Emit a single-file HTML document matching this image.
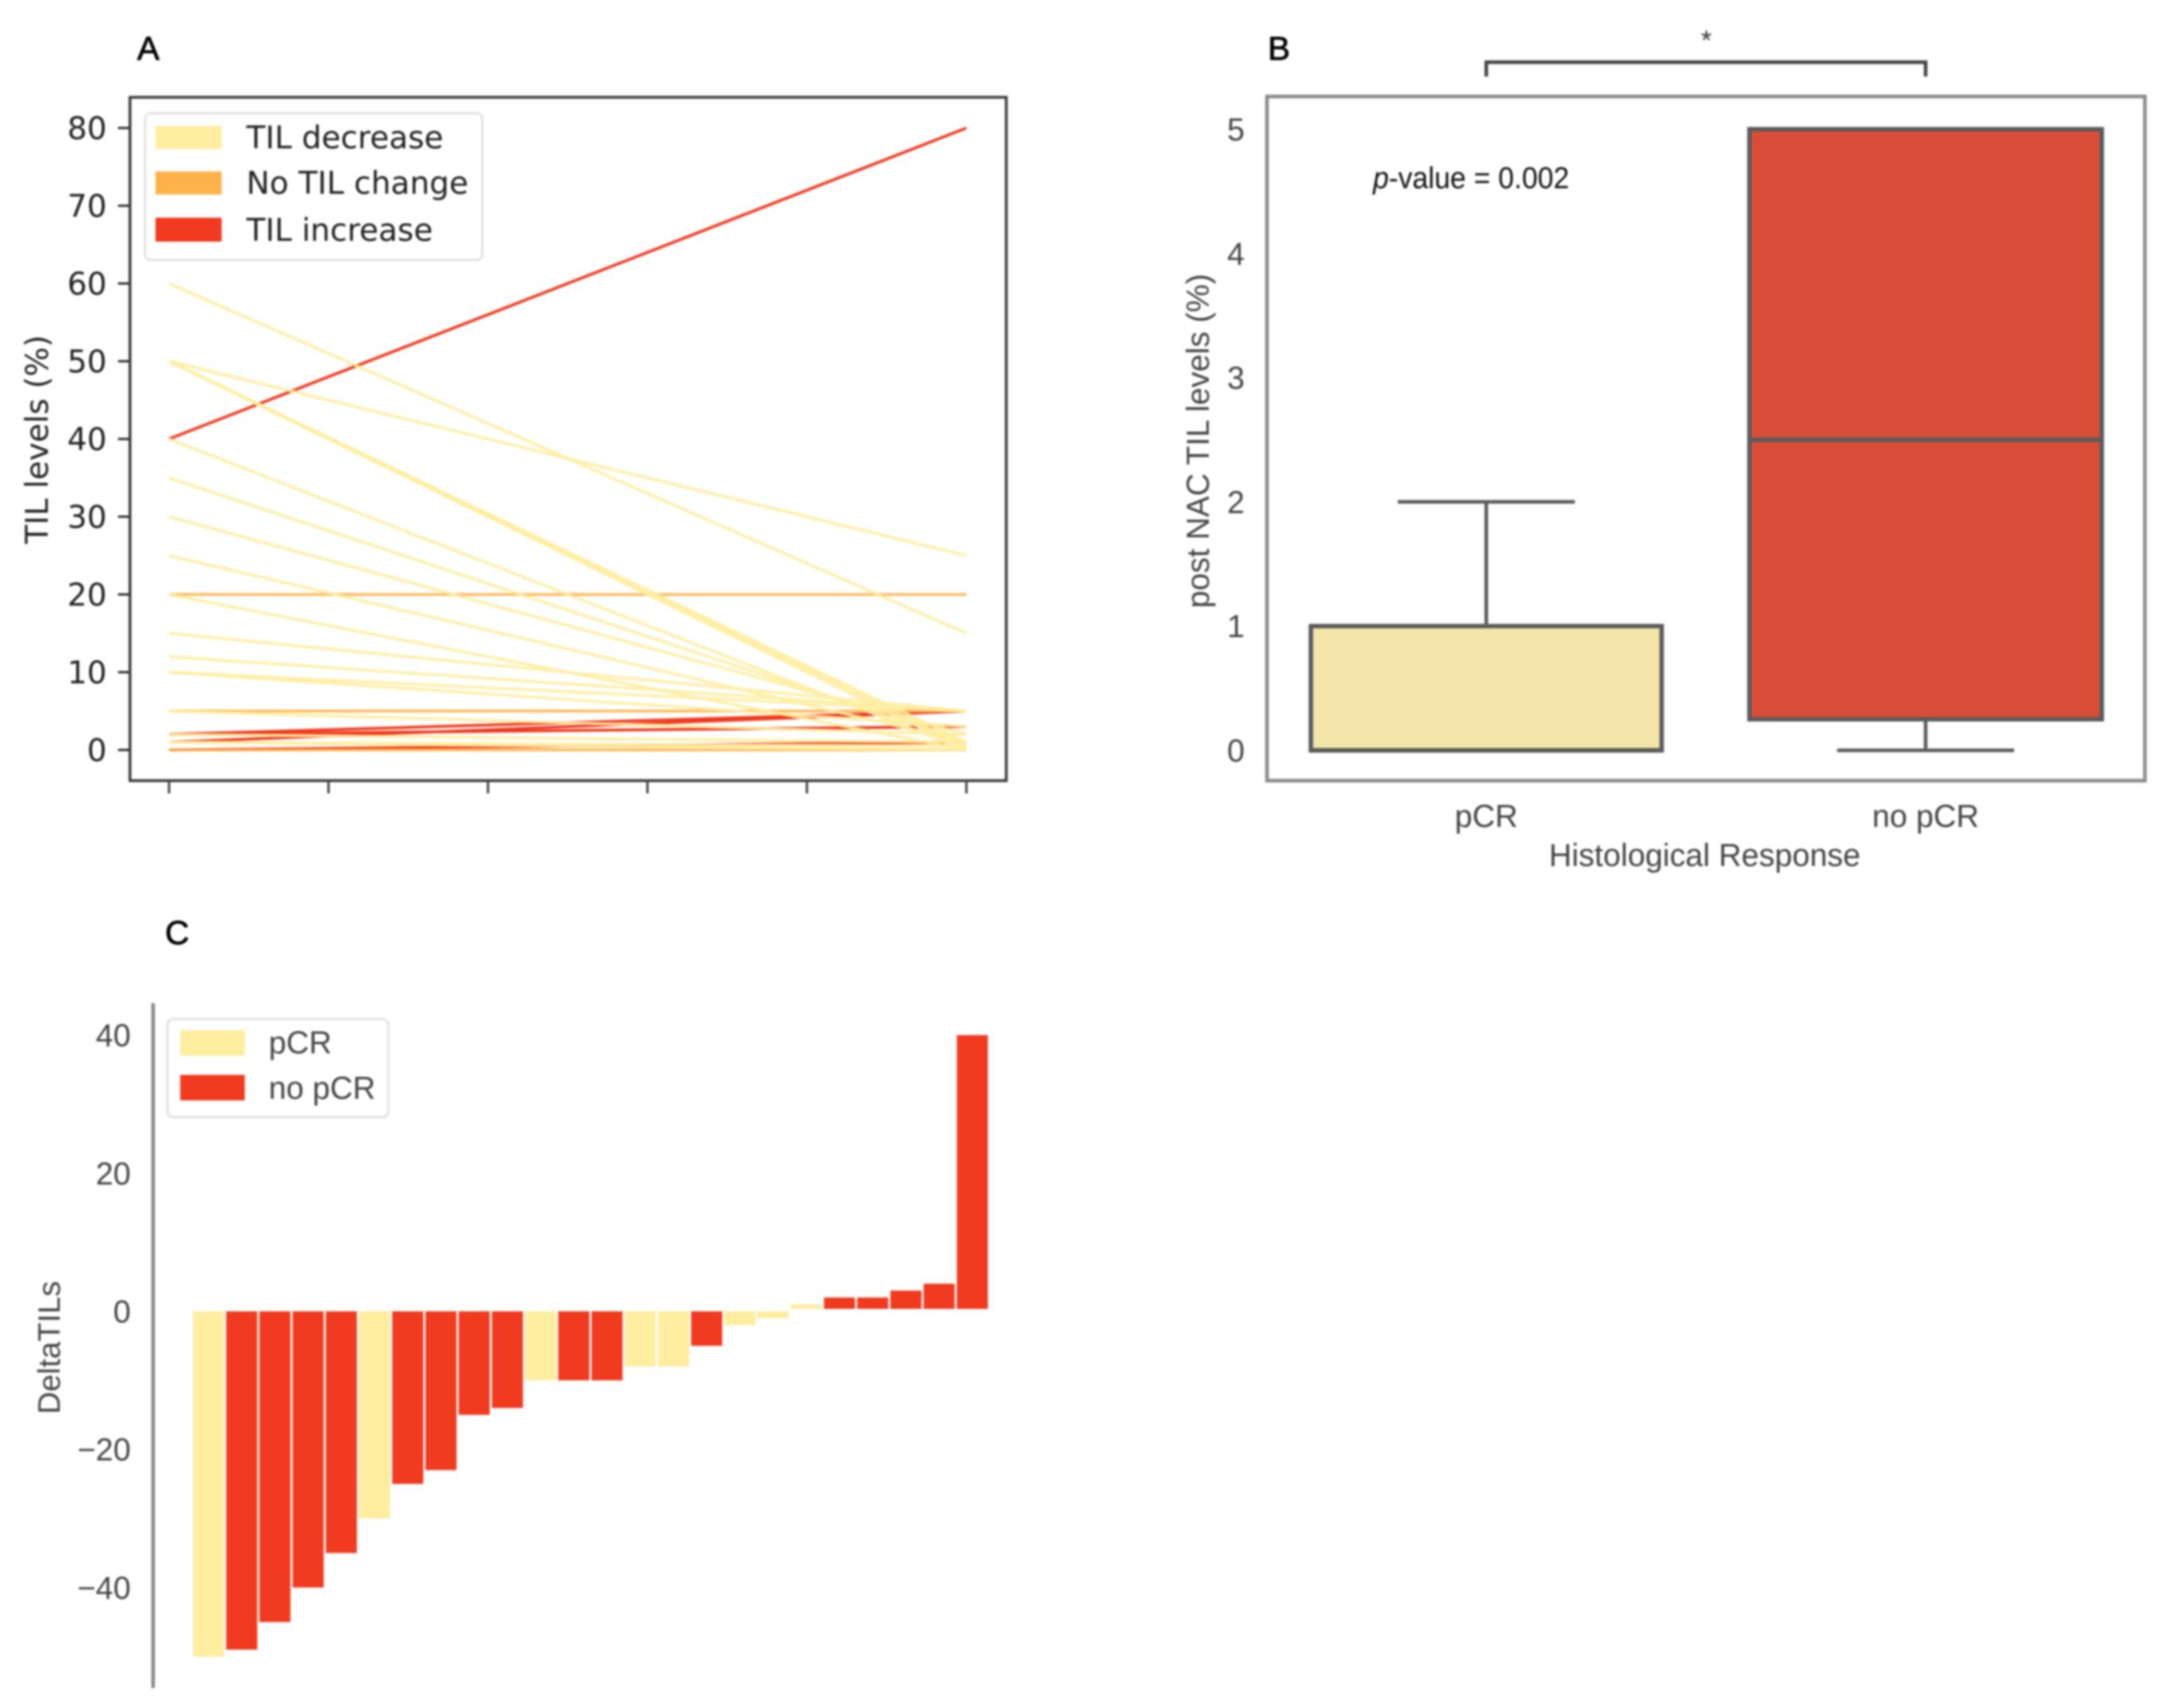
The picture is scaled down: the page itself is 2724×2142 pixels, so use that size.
<!DOCTYPE html>
<html>
<head>
<meta charset="utf-8">
<title>TIL levels figure</title>
<style>
html,body{margin:0;padding:0;background:#fff;width:2724px;height:2142px;overflow:hidden}
svg{display:block;filter:blur(1.4px)}
.dj{font-family:"DejaVu Sans",sans-serif}
.ls{font-family:"Liberation Sans",sans-serif}
</style>
</head>
<body>
<svg id="fig" xmlns="http://www.w3.org/2000/svg" width="2724" height="2142" viewBox="0 0 2724 2142">
  <rect x="0" y="0" width="2724" height="2142" fill="#fff"/>

  <g id="panelA">
    <text x="172" y="75" class="ls" font-size="42" fill="#000" stroke="#000" stroke-width="0.8">A</text>
    <g id="aLines"></g>
    <rect x="163" y="122" width="1099" height="857" fill="none" stroke="#3a3a3a" stroke-width="3.5"/>
    <g id="aTicks"></g>
    <text transform="translate(60,551) rotate(-90)" text-anchor="middle" class="dj" font-size="39" fill="#222" textLength="262" lengthAdjust="spacingAndGlyphs">TIL levels (%)</text>
    <g>
      <rect x="182" y="142" width="423" height="184" rx="7" fill="#fff" fill-opacity=".9" stroke="#e2e2e2" stroke-width="3"/>
      <rect x="195" y="158" width="83" height="29" fill="#ffeda0"/>
      <rect x="195" y="215" width="83" height="29" fill="#feb24c"/>
      <rect x="195" y="273" width="83" height="30" fill="#f03b20"/>
      <text x="309" y="186" class="dj" font-size="39" fill="#222">TIL decrease</text>
      <text x="309" y="243" class="dj" font-size="39" fill="#222">No TIL change</text>
      <text x="309" y="302" class="dj" font-size="39" fill="#222">TIL increase</text>
    </g>
  </g>

  <g id="panelB">
    <text x="1590" y="75" class="ls" font-size="42" fill="#000" stroke="#000" stroke-width="0.8">B</text>
    <path d="M1864 96V78H2415V96" fill="none" stroke="#444" stroke-width="4.5"/>
    <text x="2140" y="62" text-anchor="middle" class="ls" font-size="34" fill="#333">*</text>
    <rect x="1589" y="121" width="1101" height="858" fill="none" stroke="#8a8a8a" stroke-width="4.5"/>
    <g id="bBoxes"></g>
    <g id="bTicks"></g>
    <text x="1722" y="236" class="ls" font-size="38" fill="#111" textLength="246" lengthAdjust="spacingAndGlyphs"><tspan font-style="italic">p</tspan>-value = 0.002</text>
    <text transform="translate(1516,553) rotate(-90)" text-anchor="middle" class="ls" font-size="39.5" fill="#444">post NAC TIL levels (%)</text>
    <text x="2138" y="1086" text-anchor="middle" class="ls" font-size="39.5" fill="#444">Histological Response</text>
  </g>

  <g id="panelC">
    <text x="207" y="1184" class="ls" font-size="42" fill="#000" stroke="#000" stroke-width="0.8">C</text>
    <g id="cBars"></g>
    <line x1="192" y1="1258" x2="192" y2="2117" stroke="#8a8a8a" stroke-width="4.5"/>
    <g id="cTicks"></g>
    <text transform="translate(75,1690) rotate(-90)" text-anchor="middle" class="ls" font-size="39" fill="#444">DeltaTILs</text>
    <g>
      <rect x="210" y="1278" width="277" height="123" rx="7" fill="#fff" stroke="#e2e2e2" stroke-width="3"/>
      <rect x="226" y="1292" width="81" height="32" fill="#ffeda0"/>
      <rect x="226" y="1348" width="81" height="32" fill="#f03b20"/>
      <text x="337" y="1321" class="ls" font-size="39.5" fill="#444">pCR</text>
      <text x="337" y="1378" class="ls" font-size="39.5" fill="#444">no pCR</text>
    </g>
  </g>
</svg>
<script>
// Panel A data
var noChangeLevels = [20, 5, 0];
var decreasePre  = [60, 50, 50, 50, 50, 40, 35, 30, 25, 20, 15, 12, 10, 10, 5, 2, 1, 1];
var decreasePost = [15, 25, 1, 0.5, 0, 0, 1, 2, 1, 0, 5, 5, 5, 3, 2, 1, 0, 0.5];
var increasePre  = [40, 2, 2, 1, 0];
var increasePost = [80, 5, 3, 5, 1];
var aYTicks = [0, 10, 20, 30, 40, 50, 60, 70, 80];
var aXTicks = [0, 1, 2, 3, 4, 5];

// Panel B data
var bCategories = ['pCR', 'no pCR'];
var bWhiskerLow = [0, 0];
var bQ1 = [0, 0.25];
var bMedian = [0, 2.5];
var bQ3 = [1, 5];
var bWhiskerHigh = [2, 5];
var bYTicks = [0, 1, 2, 3, 4, 5];

// Panel C data
var cValues = [-50, -49, -45, -40, -35, -30, -25, -23, -15, -14, -10, -10, -10, -8, -8, -5, -2, -1, 1, 2, 2, 3, 4, 40];
var cResponse = ['pCR', 'no', 'no', 'no', 'no', 'pCR', 'no', 'no', 'no', 'no', 'pCR', 'no', 'no', 'pCR', 'pCR', 'no', 'pCR', 'pCR', 'pCR', 'no', 'no', 'no', 'no', 'no'];
var cYTicks = [-40, -20, 0, 20, 40];

var NS = 'http://www.w3.org/2000/svg';
function mk(tag, parent, attrs, txt) {
  var e = document.createElementNS(NS, tag);
  for (var k in attrs) e.setAttribute(k, attrs[k]);
  if (txt !== undefined) e.textContent = txt;
  parent.appendChild(e);
  return e;
}
function ax(v) { return 212 + v * 200; }
function ay(v) { return 940.5 - v * 9.75; }
function by(v) { return 941 - v * 155.8; }
function cy(v) { return 1644.5 - v * 8.66; }
function cx(i) { return 242 + i * 41.65; }

var aL = document.getElementById('aLines');
var aT = document.getElementById('aTicks');
var bB = document.getElementById('bBoxes');
var bT = document.getElementById('bTicks');
var cB = document.getElementById('cBars');
var cT = document.getElementById('cTicks');

function drawLine(parent, pre, post, color, op, name) {
  var l = mk('line', parent, {x1: ax(0), y1: ay(pre), x2: ax(5), y2: ay(post), stroke: color, 'stroke-width': 3.6, 'stroke-opacity': op});
  
  
}
increasePre.forEach(function (p, i) { drawLine(aL, p, increasePost[i], '#f03b20', 1, 'line-increase'); });
noChangeLevels.forEach(function (p) { drawLine(aL, p, p, '#feb24c', 0.9, 'line-no-change'); });
decreasePre.forEach(function (p, i) { drawLine(aL, p, decreasePost[i], '#ffeda0', 0.9, 'line-decrease'); });

aYTicks.forEach(function (t) {
  var m = mk('line', aT, {x1: 148, x2: 163, y1: ay(t), y2: ay(t), stroke: '#333', 'stroke-width': 3});
  
  
  var s = mk('text', aT, {x: 134, y: ay(t) + 14, 'text-anchor': 'end', 'class': 'dj', 'font-size': 39, fill: '#222'}, String(t));
  
  
});
aXTicks.forEach(function (t) {
  var m = mk('line', aT, {x1: ax(t), x2: ax(t), y1: 979, y2: 995, stroke: '#444', 'stroke-width': 3});
  
  
});

var bCenters = [1864, 2415];
var bHalfWidths = [220, 221];
var bFills = ['#f4e5a8', '#d84d38'];
var bCapHalf = 111;
bCategories.forEach(function (c, i) {
  var x = bCenters[i], w = bHalfWidths[i];
  var st = '#5a5a5a';
  var wh = mk('line', bB, {x1: x, x2: x, y1: by(bQ3[i]), y2: by(bWhiskerHigh[i]), stroke: st, 'stroke-width': 4.5});
  
  
  var wl = mk('line', bB, {x1: x, x2: x, y1: by(bQ1[i]), y2: by(bWhiskerLow[i]), stroke: st, 'stroke-width': 4.5});
  
  
  var c1 = mk('line', bB, {x1: x - bCapHalf, x2: x + bCapHalf, y1: by(bWhiskerHigh[i]), y2: by(bWhiskerHigh[i]), stroke: st, 'stroke-width': 4.5});
  
  
  var c2 = mk('line', bB, {x1: x - bCapHalf, x2: x + bCapHalf, y1: by(bWhiskerLow[i]), y2: by(bWhiskerLow[i]), stroke: st, 'stroke-width': 4.5});
  
  
  var r = mk('rect', bB, {x: x - w, y: by(bQ3[i]), width: 2 * w, height: by(bQ1[i]) - by(bQ3[i]), fill: bFills[i], stroke: st, 'stroke-width': 5.5});
  
  
  var m = mk('line', bB, {x1: x - w, x2: x + w, y1: by(bMedian[i]), y2: by(bMedian[i]), stroke: st, 'stroke-width': 5.5});
  
  
  var lab = mk('text', bT, {x: x, y: 1037, 'text-anchor': 'middle', 'class': 'ls', 'font-size': 39.5, fill: '#444'}, c);
  
  
});
bYTicks.forEach(function (t) {
  var s = mk('text', bT, {x: 1561, y: by(t) + 14, 'text-anchor': 'end', 'class': 'ls', 'font-size': 39.5, fill: '#444'}, String(t));
  
  
});

cValues.forEach(function (v, i) {
  var top = v > 0 ? cy(v) : cy(0);
  var h = Math.abs(cy(v) - cy(0));
  if (v > 0) { h -= 3; }
  var r = mk('rect', cB, {x: cx(i), y: top, width: 39, height: h, fill: cResponse[i] === 'pCR' ? '#ffeda0' : '#f03b20'});
  
  
});
cYTicks.forEach(function (t) {
  var s = mk('text', cT, {x: 164, y: cy(t) + 14, 'text-anchor': 'end', 'class': 'ls', 'font-size': 39.5, fill: '#444'}, (t < 0 ? '\u2212' : '') + Math.abs(t));
  
  
});
</script>
</body>
</html>
